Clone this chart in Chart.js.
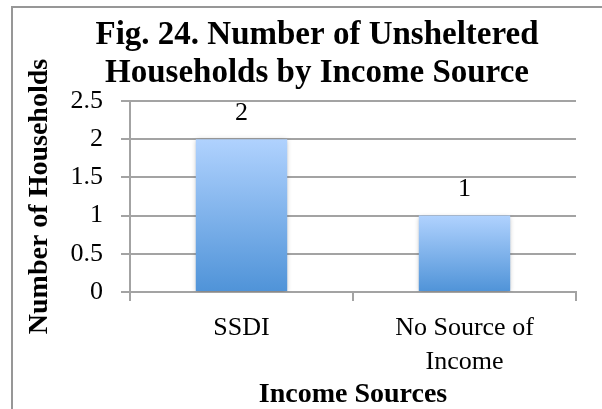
<!DOCTYPE html>
<html>
<head>
<meta charset="utf-8">
<script src="https://cdn.jsdelivr.net/npm/chart.js@4/dist/chart.umd.min.js"></script>
<style>
  html, body { margin: 0; padding: 0; background: #fff; }
  #wrap { width: 602px; height: 409px; position: relative; }
</style>
</head>
<body>
<div id="wrap"><canvas id="chart"></canvas></div>
<script>
// chart data
const categories = ['SSDI', ['No Source of', 'Income']];
const households = [2, 1];
const titleLines = ['Fig. 24. Number of Unsheltered', 'Households by Income Source'];
const yTicks = { min: 0, max: 2.5, step: 0.5 };

const SERIF = '"Liberation Serif", "Times New Roman", serif';
const GRID = '#a3a3a3';

// bar gradient, light on top to darker at the base, per bar
function barGradient(ctx) {
    const chart = ctx.chart;
    if (!chart.chartArea || ctx.type !== 'data') return '#7fb0ec';
    const y = chart.scales.y;
    const top = y.getPixelForValue(ctx.raw);
    const bottom = y.getPixelForValue(0);
    const g = chart.ctx.createLinearGradient(0, top, 0, bottom);
    g.addColorStop(0, '#b0d2fe');
    g.addColorStop(1, '#4f93d8');
    return g;
}

const framePlugin = {
    id: 'frame',
    beforeDraw(chart) {
        const c = chart.ctx;
        c.save();
        c.fillStyle = '#fff';
        c.fillRect(0, 0, chart.width, chart.height);
        c.strokeStyle = '#979797';
        c.lineWidth = 2;
        c.strokeRect(12, 7, chart.width + 20, chart.height + 20);
        c.restore();
    },
    afterDraw(chart) {
        const c = chart.ctx;
        c.save();
        c.fillStyle = '#000';
        c.font = 'bold 33px ' + SERIF;
        c.textAlign = 'center';
        c.textBaseline = 'middle';
        c.fillText(titleLines[0], 317, 35);
        c.fillText(titleLines[1], 317, 73);
        c.restore();
    }
};

const shadowPlugin = {
    id: 'barShadow',
    beforeDatasetsDraw(chart) {
        const c = chart.ctx;
        c.save();
        c.shadowColor = 'rgba(0,0,0,0.28)';
        c.shadowBlur = 5;
        c.shadowOffsetY = 1;
    },
    afterDatasetsDraw(chart) {
        chart.ctx.restore();
        // value labels above bars
        const c = chart.ctx;
        const meta = chart.getDatasetMeta(0);
        c.save();
        c.fillStyle = '#000';
        c.font = '26px ' + SERIF;
        c.textAlign = 'center';
        c.textBaseline = 'middle';
        meta.data.forEach((bar, i) => {
            c.fillText(String(households[i]), bar.x, bar.y - 26);
        });
        c.restore();
    }
};

new Chart(document.getElementById('chart'), {
    type: 'bar',
    data: {
        labels: categories,
        datasets: [{
            data: households,
            backgroundColor: barGradient,
            borderWidth: 0,
            categoryPercentage: 1,
            barPercentage: 0.41,
        }],
    },
    options: {
        responsive: true,
        maintainAspectRatio: false,
        animation: false,
        devicePixelRatio: 1,
        layout: { padding: { top: 101, left: 11, right: 26, bottom: 0 } },
        plugins: {
            legend: { display: false },
            tooltip: { enabled: false },
        },
        scales: {
            x: {
                grid: { drawOnChartArea: false, color: GRID, lineWidth: 2, tickLength: 9, offset: true },
                border: { color: GRID, width: 2 },
                ticks: { color: '#000', font: { family: SERIF, size: 26, lineHeight: 1.3 }, padding: 10, maxRotation: 0 },
                title: {
                    display: true, text: 'Income Sources', color: '#000',
                    font: { family: SERIF, size: 28, weight: 'bold', lineHeight: 1 },
                    padding: { top: 2, bottom: 0 },
                },
                afterFit(scale) { scale.height = 117; },
            },
            y: {
                min: yTicks.min,
                max: yTicks.max,
                grid: { color: GRID, lineWidth: 2, tickLength: 9 },
                border: { color: GRID, width: 2 },
                ticks: {
                    stepSize: yTicks.step, color: '#000', font: { family: SERIF, size: 26 }, padding: 18,
                    callback: (v) => String(v),
                },
                title: {
                    display: true, text: 'Number of Households', color: '#000',
                    font: { family: SERIF, size: 28, weight: 'bold', lineHeight: 1 },
                    padding: { top: 15, bottom: 0 },
                },
                afterFit(scale) { scale.width = 119; },
            },
        },
    },
    plugins: [framePlugin, shadowPlugin],
});
</script>
</body>
</html>
